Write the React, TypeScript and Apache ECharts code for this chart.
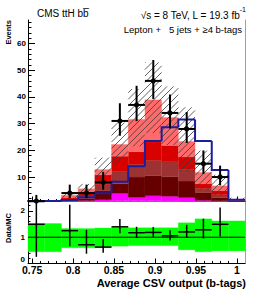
import { useEffect, useRef } from 'react';
import * as echarts from 'echarts';

const FONT = '"Liberation Sans", Arial, Helvetica, sans-serif';

// ---- axis ranges & ticks ----
const X_MIN = 0.745;
const X_MAX = 1.01;
const Y_MIN = 0.84;
const Y_MAX = 68.8;
const R_MIN = 0;
const R_MAX = 2.36;

const xMajorTicks = [0.75, 0.8, 0.85, 0.9, 0.95, 1.0];
const xTickLabels = ['0.75', '0.8', '0.85', '0.9', '0.95', '1'];
const xMinorTicks = [0.75, 0.76, 0.77, 0.78, 0.79, 0.8, 0.81, 0.82, 0.83, 0.84, 0.85, 0.86, 0.87, 0.88, 0.89, 0.9, 0.91, 0.92, 0.93, 0.94, 0.95, 0.96, 0.97, 0.98, 0.99, 1.0];
const yMajorTicks = [10, 20, 30, 40, 50, 60];
const yTickLabels = ['10', '20', '30', '40', '50', '60'];
const yMinorTicks = [2, 4, 6, 8, 10, 12, 14, 16, 18, 20, 22, 24, 26, 28, 30, 32, 34, 36, 38, 40, 42, 44, 46, 48, 50, 52, 54, 56, 58, 60, 62, 64, 66, 68];
const rMajorTicks = [0, 1, 2];
const rTickLabels = ['0', '1', '2'];
const rMinorTicks = [0.2, 0.4, 0.6, 0.8, 1.0, 1.2, 1.4, 1.6, 1.8, 2.0, 2.2];

// ---- binning ----
const binEdges = [0.745, 0.7654, 0.7858, 0.8062, 0.8266, 0.847, 0.8674, 0.8878, 0.9082, 0.9286, 0.949, 0.9694, 0.9898, 1.01];

// ---- stacked backgrounds (bottom to top) ----
const bkgEwk = [0.3, 0.35, 0.9, 1.0, 1.05, 1.1, 1.1, 1.1, 1.05, 1.0, 0.95, 0.9, 0.3];
const bkgSingleTop = [0.1, 0.1, 0.15, 0.2, 0.45, 2.8, 1.3, 1.9, 1.75, 1.3, 0.35, 0.2, 0.05];
const bkgTtbb = [0.1, 0.1, 0.2, 0.8, 3.3, 3.6, 7.6, 7.5, 7.3, 6.2, 2.9, 1.2, 0.55];
const bkgTtb = [0.05, 0.07, 0.35, 0.8, 2.4, 4.5, 4.8, 5.8, 5.6, 4.3, 1.6, 1.1, 0.2];
const bkgTtcc = [0.05, 0.08, 0.6, 1.1, 3.6, 5.8, 4.7, 6.9, 6.1, 4.7, 1.7, 1.5, 0.2];
const bkgTtlf = [0.07, 0.1, 1.0, 1.7, 2.0, 4.4, 12.1, 15.7, 10.5, 5.8, 4.2, 1.8, 0.1];

// ---- signal (outline) ----
const signalTtH = [0.9, 1.0, 1.4, 2.4, 3.9, 8.2, 14.0, 23.5, 28.6, 31.5, 23.5, 12.6, 1.5];

// ---- data ----
const dataCounts = [1, 0, 4, 4, 8, 31, 37, 46, 34, 28, 15, 10, 0];
const dataErrUp = [2.3, 0, 3.16, 3.16, 3.94, 6.63, 7.16, 7.83, 6.9, 6.35, 4.95, 4.27, 0];
const dataErrDown = [0.83, 0, 1.91, 1.91, 2.77, 5.54, 6.06, 6.76, 5.8, 5.26, 3.83, 3.11, 0];

// ---- MC uncertainty band (relative) ----
const bandHi = [1.52, 1.52, 1.33, 1.33, 1.35, 1.37, 1.36, 1.36, 1.36, 1.55, 1.7, 1.62, 1.62];
const bandLo = [0.45, 0.45, 0.6, 0.6, 0.62, 0.66, 0.68, 0.68, 0.68, 0.52, 0.45, 0.48, 0.48];

const layers = [
  { name: 'EWK', values: bkgEwk, color: '#66ccff' },
  { name: 'Single t', values: bkgSingleTop, color: '#ff00ff' },
  { name: 'tt+bb', values: bkgTtbb, color: '#660000' },
  { name: 'tt+b', values: bkgTtb, color: '#9c3232' },
  { name: 'tt+cc', values: bkgTtcc, color: '#d90000' },
  { name: 'tt+lf', values: bkgTtlf, color: '#ff6a6a' },
];

const nBins = binEdges.length - 1;
const mcTotal = Array.from({ length: nBins }, (_, i) => layers.reduce((s, l) => s + l.values[i], 0));

const clamp = (v: number, a: number, b: number) => Math.max(a, Math.min(b, v));
const cy = (v: number) => clamp(v, Y_MIN, Y_MAX);
const cr = (v: number) => clamp(v, R_MIN, R_MAX);

function rectFrom(api: any, lo: number, hi: number, b: number, t: number, fill: string) {
  const p0 = api.coord([lo, b]);
  const p1 = api.coord([hi, t]);
  return {
    type: 'rect',
    shape: { x: p0[0], y: p1[1], width: p1[0] - p0[0], height: p0[1] - p1[1] },
    style: { fill, stroke: fill, lineWidth: 0.3 },
  };
}

export default function App() {
  const ref = useRef<HTMLDivElement>(null);

  useEffect(() => {
    if (!ref.current) return;
    const chart = echarts.init(ref.current, null, { renderer: 'svg' });

    const series: any[] = [];

    // stacked background layers
    layers.forEach((layer, li) => {
      const data = [];
      for (let i = 0; i < nBins; i++) {
        let base = 0;
        for (let k = 0; k < li; k++) base += layers[k].values[i];
        data.push([binEdges[i], binEdges[i + 1], base, base + layer.values[i]]);
      }
      series.push({
        type: 'custom',
        name: layer.name,
        xAxisIndex: 0,
        yAxisIndex: 0,
        z: 2,
        silent: true,
        encode: { x: [0, 1], y: [2, 3] },
        data,
        renderItem: (_p: any, api: any) => {
          const b = cy(api.value(2));
          const t = cy(api.value(3));
          if (t <= b) return { type: 'group', children: [] };
          return rectFrom(api, api.value(0), api.value(1), b, t, layer.color);
        },
      });
    });

    // hatched uncertainty band
    series.push({
      type: 'custom',
      name: 'MC unc.',
      xAxisIndex: 0,
      yAxisIndex: 0,
      z: 3,
      silent: true,
      encode: { x: [0, 1], y: [2, 3] },
      data: mcTotal.map((m, i) => [binEdges[i], binEdges[i + 1], m * bandLo[i], m * bandHi[i]]),
      renderItem: (_p: any, api: any) => {
        const b = cy(api.value(2));
        const t = cy(api.value(3));
        const children: any[] = [];
        if (t <= b) return { type: 'group', children };
        const p0 = api.coord([api.value(0), b]);
        const p1 = api.coord([api.value(1), t]);
        const x0 = p0[0], x1 = p1[0], yTop = p1[1], yBot = p0[1];
        const s = 6.5;
        const cStart = Math.ceil((x0 + yTop) / s) * s;
        for (let c = cStart; c <= x1 + yBot; c += s) {
          const xa = Math.max(x0, c - yBot);
          const xb = Math.min(x1, c - yTop);
          if (xb > xa) {
            children.push({
              type: 'line',
              shape: { x1: xa, y1: c - xa, x2: xb, y2: c - xb },
              style: { stroke: '#3a3a3a', lineWidth: 0.8 },
            });
          }
        }
        return { type: 'group', children };
      },
    });

    // signal outline
    series.push({
      type: 'custom',
      name: 'ttH',
      xAxisIndex: 0,
      yAxisIndex: 0,
      z: 4,
      silent: true,
      encode: { x: [0, 1], y: 2 },
      data: signalTtH.map((v, i) => [binEdges[i], binEdges[i + 1], v, i === 0 ? Y_MIN : signalTtH[i - 1]]),
      renderItem: (_p: any, api: any) => {
        const lo = api.value(0), hi = api.value(1);
        const v = cy(api.value(2)), prev = cy(api.value(3));
        const pts = [api.coord([lo, prev]), api.coord([lo, v]), api.coord([hi, v])];
        return {
          type: 'polyline',
          shape: { points: pts },
          style: { stroke: '#1d1d9b', lineWidth: 2, fill: null },
        };
      },
    });

    // data points
    const dataItems: number[][] = [];
    dataCounts.forEach((n, i) => {
      if (n > 0) dataItems.push([binEdges[i], binEdges[i + 1], n, dataErrDown[i], dataErrUp[i]]);
    });
    series.push({
      type: 'custom',
      name: 'Data',
      xAxisIndex: 0,
      yAxisIndex: 0,
      z: 5,
      silent: true,
      encode: { x: [0, 1], y: 2 },
      data: dataItems,
      renderItem: (_p: any, api: any) => {
        const lo = api.value(0), hi = api.value(1), v = api.value(2);
        const mid = (lo + hi) / 2;
        const pl = api.coord([lo, cy(v)]);
        const ph = api.coord([hi, cy(v)]);
        const pd = api.coord([mid, cy(v - api.value(3))]);
        const pu = api.coord([mid, cy(v + api.value(4))]);
        const c = api.coord([mid, cy(v)]);
        return {
          type: 'group',
          children: [
            { type: 'line', shape: { x1: pl[0], y1: pl[1], x2: ph[0], y2: ph[1] }, style: { stroke: '#000', lineWidth: 2 } },
            { type: 'line', shape: { x1: pd[0], y1: pd[1], x2: pu[0], y2: pu[1] }, style: { stroke: '#000', lineWidth: 2 } },
            { type: 'circle', shape: { cx: c[0], cy: c[1], r: 2.6 }, style: { fill: '#000' } },
          ],
        };
      },
    });

    // ratio: green band
    series.push({
      type: 'custom',
      name: 'MC unc. ratio',
      xAxisIndex: 2,
      yAxisIndex: 3,
      z: 2,
      silent: true,
      encode: { x: [0, 1], y: [2, 3] },
      data: bandLo.map((lo, i) => [binEdges[i], binEdges[i + 1], lo, bandHi[i]]),
      renderItem: (_p: any, api: any) =>
        rectFrom(api, api.value(0), api.value(1), cr(api.value(2)), cr(api.value(3)), '#00ff00'),
    });

    // ratio: unity line
    series.push({
      type: 'custom',
      name: 'unity',
      xAxisIndex: 2,
      yAxisIndex: 3,
      z: 3,
      silent: true,
      encode: { x: [0, 1], y: 2 },
      data: [[X_MIN, X_MAX, 1]],
      renderItem: (_p: any, api: any) => {
        const a = api.coord([api.value(0), api.value(2)]);
        const b = api.coord([api.value(1), api.value(2)]);
        return { type: 'line', shape: { x1: a[0], y1: a[1], x2: b[0], y2: b[1] }, style: { stroke: '#000', lineWidth: 1 } };
      },
    });

    // ratio: data / MC
    const ratioItems: number[][] = [];
    dataCounts.forEach((n, i) => {
      if (n > 0) {
        const m = mcTotal[i];
        ratioItems.push([binEdges[i], binEdges[i + 1], n / m, dataErrDown[i] / m, dataErrUp[i] / m]);
      }
    });
    series.push({
      type: 'custom',
      name: 'Data/MC',
      xAxisIndex: 2,
      yAxisIndex: 3,
      z: 4,
      silent: true,
      encode: { x: [0, 1], y: 2 },
      data: ratioItems,
      renderItem: (_p: any, api: any) => {
        const lo = api.value(0), hi = api.value(1), v = api.value(2);
        const mid = (lo + hi) / 2;
        const pl = api.coord([lo, cr(v)]);
        const ph = api.coord([hi, cr(v)]);
        const pd = api.coord([mid, cr(v - api.value(3))]);
        const pu = api.coord([mid, cr(v + api.value(4))]);
        return {
          type: 'group',
          children: [
            { type: 'line', shape: { x1: pl[0], y1: pl[1], x2: ph[0], y2: ph[1] }, style: { stroke: '#000', lineWidth: 1.5 } },
            { type: 'line', shape: { x1: pd[0], y1: pd[1], x2: pu[0], y2: pu[1] }, style: { stroke: '#000', lineWidth: 1.5 } },
          ],
        };
      },
    });

    const lab = (vals: number[], txt: string[]) => (v: number) => {
      const k = vals.findIndex((t) => Math.abs(t - v) < 1e-6);
      return k >= 0 ? txt[k] : '';
    };

    const majorX = (grid: number, labels: boolean) => ({
      gridIndex: grid,
      type: 'value',
      position: 'bottom',
      min: X_MIN,
      max: X_MAX,
      axisLine: { show: true, onZero: false, lineStyle: { color: '#000', width: 1 } },
      axisTick: { show: true, inside: true, length: 5, customValues: xMajorTicks, lineStyle: { color: '#000', width: 1 } },
      axisLabel: labels
        ? {
            show: true,
            customValues: xMajorTicks,
            formatter: lab(xMajorTicks, xTickLabels),
            fontFamily: FONT,
            fontWeight: 'bold',
            fontSize: 10.5,
            lineHeight: 11,
            color: '#000',
            margin: 1,
          }
        : { show: false },
      splitLine: { show: false },
    });
    const minorX = (grid: number) => ({
      gridIndex: grid,
      type: 'value',
      position: 'bottom',
      min: X_MIN,
      max: X_MAX,
      axisLine: { show: false, onZero: false },
      axisTick: { show: true, inside: true, length: 2.5, customValues: xMinorTicks, lineStyle: { color: '#000', width: 1 } },
      axisLabel: { show: false },
      splitLine: { show: false },
    });

    const yAxes = [
      {
        gridIndex: 0, type: 'value', position: 'left', min: Y_MIN, max: Y_MAX,
        axisLine: { show: true, onZero: false, lineStyle: { color: '#000', width: 1 } },
        axisTick: { show: true, inside: true, length: 7, customValues: yMajorTicks, lineStyle: { color: '#000' } },
        axisLabel: { show: true, customValues: yMajorTicks, formatter: lab(yMajorTicks, yTickLabels), fontFamily: FONT, fontWeight: 'bold', fontSize: 8, color: '#000', margin: 2 },
        splitLine: { show: false },
      },
      {
        gridIndex: 0, type: 'value', position: 'left', min: Y_MIN, max: Y_MAX,
        axisLine: { show: false, onZero: false },
        axisTick: { show: true, inside: true, length: 3.5, customValues: yMinorTicks, lineStyle: { color: '#000' } },
        axisLabel: { show: false },
        splitLine: { show: false },
      },
      {
        gridIndex: 0, type: 'value', position: 'right', min: Y_MIN, max: Y_MAX,
        axisLine: { show: true, onZero: false, lineStyle: { color: '#a0a0a0', width: 1 } },
        axisTick: { show: false }, axisLabel: { show: false }, splitLine: { show: false },
      },
      {
        gridIndex: 1, type: 'value', position: 'left', min: R_MIN, max: R_MAX,
        axisLine: { show: true, onZero: false, lineStyle: { color: '#000', width: 1 } },
        axisTick: { show: true, inside: true, length: 5, customValues: rMajorTicks, lineStyle: { color: '#000' } },
        axisLabel: { show: true, customValues: rMajorTicks, formatter: lab(rMajorTicks, rTickLabels), fontFamily: FONT, fontWeight: 'bold', fontSize: 8, color: '#000', margin: 3, verticalAlignMinLabel: 'bottom' },
        splitLine: { show: false },
      },
      {
        gridIndex: 1, type: 'value', position: 'left', min: R_MIN, max: R_MAX,
        axisLine: { show: false, onZero: false },
        axisTick: { show: true, inside: true, length: 2.5, customValues: rMinorTicks, lineStyle: { color: '#000' } },
        axisLabel: { show: false },
        splitLine: { show: false },
      },
      {
        gridIndex: 1, type: 'value', position: 'right', min: R_MIN, max: R_MAX,
        axisLine: { show: true, onZero: false, lineStyle: { color: '#a0a0a0', width: 1 } },
        axisTick: { show: false }, axisLabel: { show: false }, splitLine: { show: false },
      },
    ];

    const txt = (text: string, x: number, y: number, extra: any) => ({
      type: 'text',
      x,
      y,
      silent: true,
      style: { text, fontFamily: FONT, fill: '#000', ...extra },
    });

    chart.setOption({
      animation: false,
      textStyle: { fontFamily: FONT },
      grid: [
        { left: 28, right: 13, top: 20, height: 181.5 },
        { left: 28, right: 13, top: 201.5, height: 62 },
      ],
      xAxis: [majorX(0, false), minorX(0), majorX(1, true), minorX(1)],
      yAxis: yAxes,
      series,
      graphic: [
        txt('CMS ttH b\u0062\u0305', 37, 13, { fontSize: 10, align: 'left', verticalAlign: 'middle', textAlign: 'left', textVerticalAlign: 'middle' }),
        {
          type: 'text',
          x: 246,
          y: 13,
          silent: true,
          style: {
            text: '{a|\u221As = 8 TeV, L = 19.3 fb}{b|-1}',
            fontFamily: FONT,
            fill: '#000',
            align: 'right',
            verticalAlign: 'middle',
            textAlign: 'right',
            textVerticalAlign: 'middle',
            rich: {
              a: { fontSize: 10, fontFamily: FONT, lineHeight: 14, verticalAlign: 'bottom' },
              b: { fontSize: 7, fontFamily: FONT, lineHeight: 14, verticalAlign: 'top' },
            },
          },
        },
        txt('Lepton +   5 jets + \u22654 b-tags', 242, 29, { fontSize: 9.5, align: 'right', verticalAlign: 'middle', textAlign: 'right', textVerticalAlign: 'middle' }),
        {
          ...txt('Events', 8.5, 20, { fontSize: 7.5, fontWeight: 'bold', align: 'right', verticalAlign: 'middle', textAlign: 'right', textVerticalAlign: 'middle' }),
          rotation: Math.PI / 2,
        },
        {
          ...txt('Data/MC', 8.5, 228, { fontSize: 7.5, fontWeight: 'bold', align: 'center', verticalAlign: 'middle', textAlign: 'center', textVerticalAlign: 'middle' }),
          rotation: Math.PI / 2,
        },
        txt('Average CSV output (b-tags)', 246, 282.5, { fontSize: 11, lineHeight: 11, fontWeight: 'bold', align: 'right', verticalAlign: 'middle', textAlign: 'right', textVerticalAlign: 'middle' }),
      ],
    });

    return () => chart.dispose();
  }, []);

  return <div ref={ref} style={{ position: 'absolute', left: 0, top: 0, width: 258, height: 290 }} />;
}
